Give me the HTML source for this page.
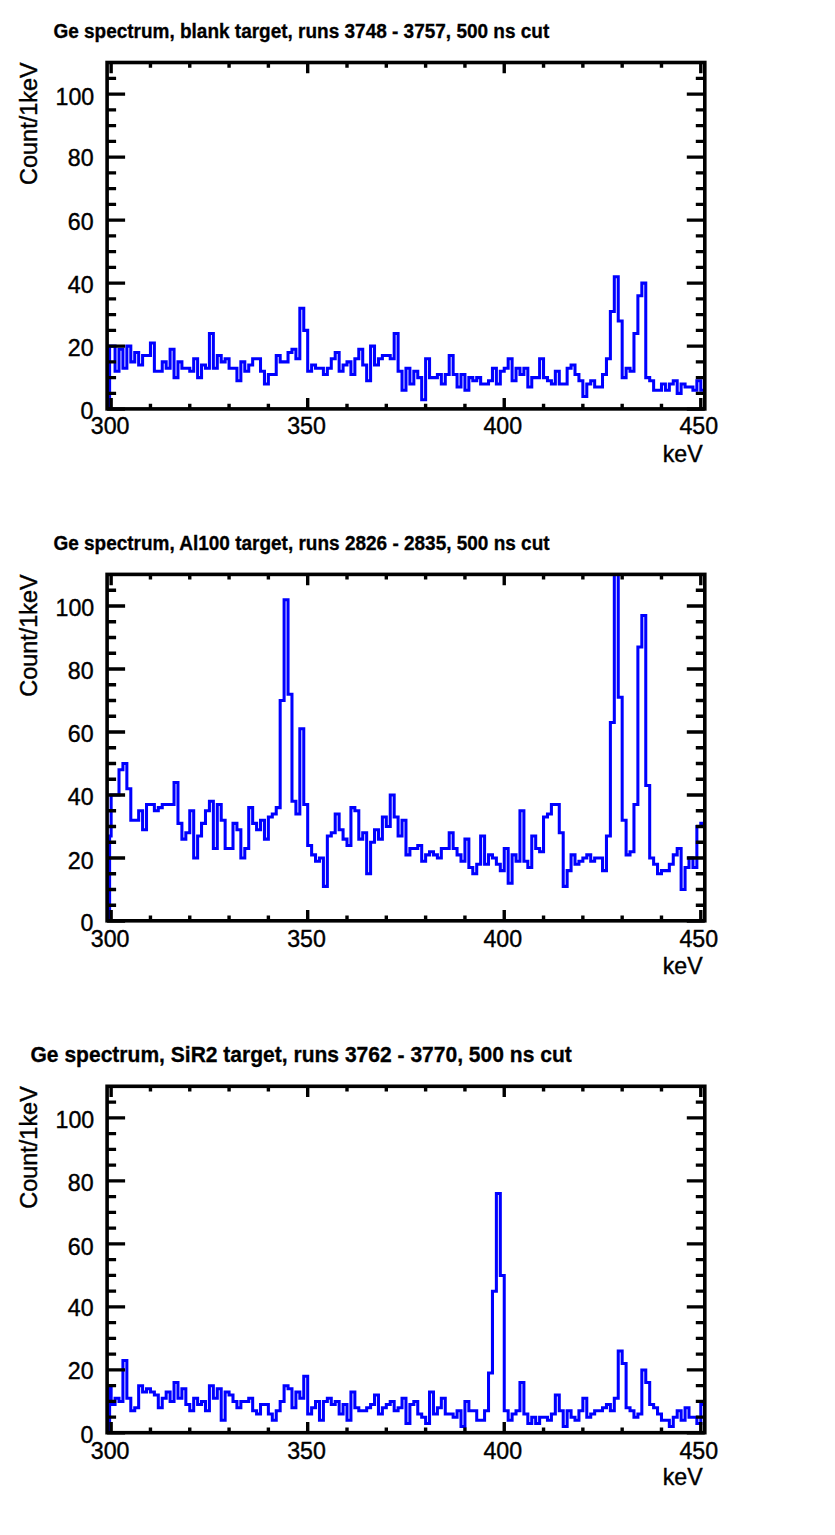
<!DOCTYPE html>
<html><head><meta charset="utf-8"><title>Ge spectra</title>
<style>html,body{margin:0;padding:0;background:#fff}svg{display:block;font-family:"Liberation Sans",sans-serif}</style>
</head><body>
<svg width="835" height="1535" viewBox="0 0 835 1535">
<rect width="835" height="1535" fill="#fff"/>
<g transform="translate(0,0)">
<clipPath id="c0"><rect x="107.1" y="62.5" width="597.7" height="346.4"/></clipPath>
<path d="M109.6,408.9V346.1H111.14V346.1H115.07V371.3H119V349.25H122.93V368.15H126.86V346.1H130.8V361.85H134.73V352.4H138.66V365H142.59V355.55H146.52V355.55H150.45V342.95H154.38V371.3H158.31V371.3H162.24V361.85H166.17V368.15H170.11V349.25H174.04V377.6H177.97V361.85H181.9V368.15H185.83V368.15H189.76V371.3H193.69V358.7H197.62V377.6H201.55V365H205.48V368.15H209.42V333.5H213.35V368.15H217.28V355.55H221.21V361.85H225.14V358.7H229.07V368.15H233V368.15H236.93V380.75H240.86V361.85H244.79V371.3H248.73V365H252.66V358.7H256.59V358.7H260.52V371.3H264.45V383.9H268.38V374.45H272.31V374.45H276.24V355.55H280.17V361.85H284.1V361.85H288.04V352.4H291.97V349.25H295.9V358.7H299.83V308.3H303.76V330.35H307.69V371.3H311.62V365H315.55V368.15H319.48V368.15H323.41V374.45H327.35V368.15H331.28V358.7H335.21V352.4H339.14V371.3H343.07V365H347V361.85H350.93V374.45H354.86V358.7H358.79V349.25H362.72V365H366.66V380.75H370.59V346.1H374.52V365H378.45V358.7H382.38V355.55H386.31V355.55H390.24V358.7H394.17V333.5H398.1V371.3H402.03V390.2H405.96V368.15H409.9V383.9H413.83V371.3H417.76V377.6H421.69V399.65H425.62V358.7H429.55V377.6H433.48V377.6H437.41V374.45H441.34V383.9H445.27V374.45H449.21V355.55H453.14V374.45H457.07V387.05H461V374.45H464.93V390.2H468.86V377.6H472.79V380.75H476.72V377.6H480.65V383.9H484.58V383.9H488.52V380.75H492.45V368.15H496.38V383.9H500.31V371.3H504.24V368.15H508.17V358.7H512.1V380.75H516.03V368.15H519.96V374.45H523.89V368.15H527.83V387.05H531.76V377.6H535.69V377.6H539.62V358.7H543.55V377.6H547.48V380.75H551.41V383.9H555.34V371.3H559.27V383.9H563.21V383.9H567.14V368.15H571.07V365H575V374.45H578.93V380.75H582.86V396.5H586.79V383.9H590.72V380.75H594.65V387.05H598.58V387.05H602.51V374.45H606.45V358.7H610.38V311.45H614.31V276.8H618.24V320.9H622.17V377.6H626.1V368.15H630.03V371.3H633.96V333.5H637.89V295.7H641.83V283.1H645.76V377.6H649.69V380.75H653.62V390.2H657.55V390.2H661.48V383.9H665.41V390.2H669.34V383.9H673.27V380.75H677.2V393.35H681.13V383.9H685.07V387.05H689V387.05H692.93V390.2H696.86V380.75H700.79V390.2H704.72V408.9" fill="none" stroke="#0000ff" stroke-width="3.05" stroke-linejoin="miter" clip-path="url(#c0)"/>
<path d="M111.14,408.9v-10.8M111.14,62.5v10.8M150.45,408.9v-5.2M150.45,62.5v5.2M189.76,408.9v-5.2M189.76,62.5v5.2M229.07,408.9v-5.2M229.07,62.5v5.2M268.38,408.9v-5.2M268.38,62.5v5.2M307.69,408.9v-10.8M307.69,62.5v10.8M347,408.9v-5.2M347,62.5v5.2M386.31,408.9v-5.2M386.31,62.5v5.2M425.62,408.9v-5.2M425.62,62.5v5.2M464.93,408.9v-5.2M464.93,62.5v5.2M504.24,408.9v-10.8M504.24,62.5v10.8M543.55,408.9v-5.2M543.55,62.5v5.2M582.86,408.9v-5.2M582.86,62.5v5.2M622.17,408.9v-5.2M622.17,62.5v5.2M661.48,408.9v-5.2M661.48,62.5v5.2M700.79,408.9v-10.8M700.79,62.5v10.8M107.1,409.1h18M704.8,409.1h-18M107.1,393.35h9M704.8,393.35h-9M107.1,377.6h9M704.8,377.6h-9M107.1,361.85h9M704.8,361.85h-9M107.1,346.1h18M704.8,346.1h-18M107.1,330.35h9M704.8,330.35h-9M107.1,314.6h9M704.8,314.6h-9M107.1,298.85h9M704.8,298.85h-9M107.1,283.1h18M704.8,283.1h-18M107.1,267.35h9M704.8,267.35h-9M107.1,251.6h9M704.8,251.6h-9M107.1,235.85h9M704.8,235.85h-9M107.1,220.1h18M704.8,220.1h-18M107.1,204.35h9M704.8,204.35h-9M107.1,188.6h9M704.8,188.6h-9M107.1,172.85h9M704.8,172.85h-9M107.1,157.1h18M704.8,157.1h-18M107.1,141.35h9M704.8,141.35h-9M107.1,125.6h9M704.8,125.6h-9M107.1,109.85h9M704.8,109.85h-9M107.1,94.1h18M704.8,94.1h-18M107.1,78.35h9M704.8,78.35h-9" fill="none" stroke="#000" stroke-width="3.4"/>
<rect x="107.1" y="62.5" width="597.7" height="346.4" fill="none" stroke="#000" stroke-width="3.6"/>
<text transform="translate(93.4,419.2) scale(1,1.0)" text-anchor="end" font-size="23.2" stroke="#000" stroke-width="0.4">0</text>
<text transform="translate(93.6,356.1) scale(1,1.0)" text-anchor="end" font-size="23.2" stroke="#000" stroke-width="0.4">20</text>
<text transform="translate(93.6,293) scale(1,1.0)" text-anchor="end" font-size="23.2" stroke="#000" stroke-width="0.4">40</text>
<text transform="translate(93.6,230) scale(1,1.0)" text-anchor="end" font-size="23.2" stroke="#000" stroke-width="0.4">60</text>
<text transform="translate(93.6,166.2) scale(1,1.0)" text-anchor="end" font-size="23.2" stroke="#000" stroke-width="0.4">80</text>
<text transform="translate(94.2,105.2) scale(1,1.0)" text-anchor="end" font-size="23.2" stroke="#000" stroke-width="0.4">100</text>
<text transform="translate(110.14,434.2) scale(1,1.0)" text-anchor="middle" font-size="23.2" stroke="#000" stroke-width="0.4">300</text>
<text transform="translate(306.49,434.2) scale(1,1.0)" text-anchor="middle" font-size="23.2" stroke="#000" stroke-width="0.4">350</text>
<text transform="translate(502.74,434.2) scale(1,1.0)" text-anchor="middle" font-size="23.2" stroke="#000" stroke-width="0.4">400</text>
<text transform="translate(698.79,434.2) scale(1,1.0)" text-anchor="middle" font-size="23.2" stroke="#000" stroke-width="0.4">450</text>
<text transform="translate(702.7,462) scale(1,1.0)" text-anchor="end" font-size="23.2" stroke="#000" stroke-width="0.4">keV</text>
<text transform="translate(36.9,184.9) rotate(-90) scale(1,1.0)" text-anchor="start" font-size="23.45" stroke="#000" stroke-width="0.4">Count/1keV</text>
<text transform="translate(53.4,37.5) scale(1,1.07)" text-anchor="start" font-size="19" font-weight="bold" stroke="#000" stroke-width="0.3">Ge spectrum, blank target, runs 3748 - 3757, 500 ns cut</text>
</g>
<g transform="translate(0,511.9)">
<clipPath id="c1"><rect x="107.1" y="62.5" width="597.7" height="346.4"/></clipPath>
<path d="M109.6,408.9V324.05H111.14V283.1H115.07V283.1H119V257.9H122.93V251.6H126.86V276.8H130.8V308.3H134.73V308.3H138.66V298.85H142.59V317.75H146.52V292.55H150.45V292.55H154.38V298.85H158.31V295.7H162.24V292.55H166.17V292.55H170.11V292.55H174.04V270.5H177.97V311.45H181.9V327.2H185.83V320.9H189.76V298.85H193.69V346.1H197.62V324.05H201.55V311.45H205.48V298.85H209.42V289.4H213.35V336.65H217.28V292.55H221.21V308.3H225.14V336.65H229.07V336.65H233V311.45H236.93V317.75H240.86V346.1H244.79V336.65H248.73V295.7H252.66V311.45H256.59V317.75H260.52V308.3H264.45V327.2H268.38V305.15H272.31V302H276.24V295.7H280.17V188.6H284.1V87.8H288.04V182.3H291.97V289.4H295.9V302H299.83V216.95H303.76V292.55H307.69V333.5H311.62V342.95H315.55V349.25H319.48V346.1H323.41V374.45H327.35V324.05H331.28V320.9H335.21V302H339.14V317.75H343.07V327.2H347V333.5H350.93V295.7H354.86V298.85H358.79V327.2H362.72V320.9H366.66V361.85H370.59V330.35H374.52V317.75H378.45V327.2H382.38V305.15H386.31V314.6H390.24V283.1H394.17V305.15H398.1V324.05H402.03V308.3H405.96V342.95H409.9V336.65H413.83V336.65H417.76V333.5H421.69V349.25H425.62V342.95H429.55V339.8H433.48V342.95H437.41V346.1H441.34V336.65H445.27V336.65H449.21V320.9H453.14V336.65H457.07V342.95H461V349.25H464.93V327.2H468.86V355.55H472.79V361.85H476.72V352.4H480.65V324.05H484.58V352.4H488.52V342.95H492.45V346.1H496.38V352.4H500.31V358.7H504.24V336.65H508.17V371.3H512.1V342.95H516.03V349.25H519.96V298.85H523.89V349.25H527.83V355.55H531.76V324.05H535.69V336.65H539.62V339.8H543.55V305.15H547.48V302H551.41V292.55H555.34V292.55H559.27V320.9H563.21V374.45H567.14V358.7H571.07V342.95H575V352.4H578.93V349.25H582.86V346.1H586.79V342.95H590.72V349.25H594.65V346.1H598.58V346.1H602.51V358.7H606.45V324.05H610.38V210.65H614.31V56.3H618.24V185.45H622.17V308.3H626.1V342.95H630.03V339.8H633.96V292.55H637.89V135.05H641.83V103.55H645.76V273.65H649.69V346.1H653.62V352.4H657.55V361.85H661.48V358.7H665.41V358.7H669.34V352.4H673.27V342.95H677.2V336.65H681.13V377.6H685.07V355.55H689V346.1H692.93V355.55H696.86V314.6H700.79V311.45H704.72V408.9" fill="none" stroke="#0000ff" stroke-width="3.05" stroke-linejoin="miter" clip-path="url(#c1)"/>
<path d="M111.14,408.9v-10.8M111.14,62.5v10.8M150.45,408.9v-5.2M150.45,62.5v5.2M189.76,408.9v-5.2M189.76,62.5v5.2M229.07,408.9v-5.2M229.07,62.5v5.2M268.38,408.9v-5.2M268.38,62.5v5.2M307.69,408.9v-10.8M307.69,62.5v10.8M347,408.9v-5.2M347,62.5v5.2M386.31,408.9v-5.2M386.31,62.5v5.2M425.62,408.9v-5.2M425.62,62.5v5.2M464.93,408.9v-5.2M464.93,62.5v5.2M504.24,408.9v-10.8M504.24,62.5v10.8M543.55,408.9v-5.2M543.55,62.5v5.2M582.86,408.9v-5.2M582.86,62.5v5.2M622.17,408.9v-5.2M622.17,62.5v5.2M661.48,408.9v-5.2M661.48,62.5v5.2M700.79,408.9v-10.8M700.79,62.5v10.8M107.1,409.1h18M704.8,409.1h-18M107.1,393.35h9M704.8,393.35h-9M107.1,377.6h9M704.8,377.6h-9M107.1,361.85h9M704.8,361.85h-9M107.1,346.1h18M704.8,346.1h-18M107.1,330.35h9M704.8,330.35h-9M107.1,314.6h9M704.8,314.6h-9M107.1,298.85h9M704.8,298.85h-9M107.1,283.1h18M704.8,283.1h-18M107.1,267.35h9M704.8,267.35h-9M107.1,251.6h9M704.8,251.6h-9M107.1,235.85h9M704.8,235.85h-9M107.1,220.1h18M704.8,220.1h-18M107.1,204.35h9M704.8,204.35h-9M107.1,188.6h9M704.8,188.6h-9M107.1,172.85h9M704.8,172.85h-9M107.1,157.1h18M704.8,157.1h-18M107.1,141.35h9M704.8,141.35h-9M107.1,125.6h9M704.8,125.6h-9M107.1,109.85h9M704.8,109.85h-9M107.1,94.1h18M704.8,94.1h-18M107.1,78.35h9M704.8,78.35h-9" fill="none" stroke="#000" stroke-width="3.4"/>
<rect x="107.1" y="62.5" width="597.7" height="346.4" fill="none" stroke="#000" stroke-width="3.6"/>
<text transform="translate(93.4,418.9) scale(1,1.0)" text-anchor="end" font-size="23.2" stroke="#000" stroke-width="0.4">0</text>
<text transform="translate(93.6,357.2) scale(1,1.0)" text-anchor="end" font-size="23.2" stroke="#000" stroke-width="0.4">20</text>
<text transform="translate(93.6,293) scale(1,1.0)" text-anchor="end" font-size="23.2" stroke="#000" stroke-width="0.4">40</text>
<text transform="translate(93.6,230.3) scale(1,1.0)" text-anchor="end" font-size="23.2" stroke="#000" stroke-width="0.4">60</text>
<text transform="translate(93.6,167.4) scale(1,1.0)" text-anchor="end" font-size="23.2" stroke="#000" stroke-width="0.4">80</text>
<text transform="translate(94.2,104.2) scale(1,1.0)" text-anchor="end" font-size="23.2" stroke="#000" stroke-width="0.4">100</text>
<text transform="translate(110.14,435.1) scale(1,1.0)" text-anchor="middle" font-size="23.2" stroke="#000" stroke-width="0.4">300</text>
<text transform="translate(306.49,435.1) scale(1,1.0)" text-anchor="middle" font-size="23.2" stroke="#000" stroke-width="0.4">350</text>
<text transform="translate(502.74,435.1) scale(1,1.0)" text-anchor="middle" font-size="23.2" stroke="#000" stroke-width="0.4">400</text>
<text transform="translate(698.79,435.1) scale(1,1.0)" text-anchor="middle" font-size="23.2" stroke="#000" stroke-width="0.4">450</text>
<text transform="translate(702.7,462) scale(1,1.0)" text-anchor="end" font-size="23.2" stroke="#000" stroke-width="0.4">keV</text>
<text transform="translate(36.9,184.9) rotate(-90) scale(1,1.0)" text-anchor="start" font-size="23.45" stroke="#000" stroke-width="0.4">Count/1keV</text>
<text transform="translate(53.4,38.3) scale(1,1.07)" text-anchor="start" font-size="19" font-weight="bold" stroke="#000" stroke-width="0.3">Ge spectrum, Al100 target, runs 2826 - 2835, 500 ns cut</text>
</g>
<g transform="translate(0,1023.8)">
<clipPath id="c2"><rect x="107.1" y="62.5" width="597.7" height="346.4"/></clipPath>
<path d="M109.6,408.9V361.85H111.14V380.75H115.07V374.45H119V377.6H122.93V336.65H126.86V374.45H130.8V387.05H134.73V383.9H138.66V361.85H142.59V368.15H146.52V365H150.45V368.15H154.38V371.3H158.31V383.9H162.24V374.45H166.17V368.15H170.11V377.6H174.04V358.7H177.97V374.45H181.9V365H185.83V380.75H189.76V387.05H193.69V374.45H197.62V380.75H201.55V377.6H205.48V387.05H209.42V361.85H213.35V374.45H217.28V365H221.21V396.5H225.14V368.15H229.07V371.3H233V377.6H236.93V383.9H240.86V377.6H244.79V377.6H248.73V374.45H252.66V387.05H256.59V390.2H260.52V380.75H264.45V380.75H268.38V390.2H272.31V396.5H276.24V387.05H280.17V377.6H284.1V361.85H288.04V365H291.97V383.9H295.9V368.15H299.83V374.45H303.76V352.4H307.69V390.2H311.62V383.9H315.55V377.6H319.48V396.5H323.41V377.6H327.35V374.45H331.28V380.75H335.21V377.6H339.14V390.2H343.07V380.75H347V396.5H350.93V368.15H354.86V383.9H358.79V387.05H362.72V387.05H366.66V383.9H370.59V380.75H374.52V371.3H378.45V390.2H382.38V383.9H386.31V380.75H390.24V377.6H394.17V387.05H398.1V383.9H402.03V374.45H405.96V399.65H409.9V380.75H413.83V377.6H417.76V390.2H421.69V393.35H425.62V399.65H429.55V368.15H433.48V390.2H437.41V383.9H441.34V374.45H445.27V390.2H449.21V390.2H453.14V393.35H457.07V387.05H461V402.8H464.93V377.6H468.86V387.05H472.79V387.05H476.72V396.5H480.65V396.5H484.58V387.05H488.52V349.25H492.45V267.35H496.38V169.7H500.31V251.6H504.24V387.05H508.17V396.5H512.1V390.2H516.03V387.05H519.96V358.7H523.89V390.2H527.83V399.65H531.76V393.35H535.69V399.65H539.62V393.35H543.55V393.35H547.48V396.5H551.41V390.2H555.34V371.3H559.27V387.05H563.21V402.8H567.14V387.05H571.07V393.35H575V396.5H578.93V387.05H582.86V374.45H586.79V393.35H590.72V390.2H594.65V387.05H598.58V387.05H602.51V383.9H606.45V380.75H610.38V387.05H614.31V374.45H618.24V327.2H622.17V339.8H626.1V383.9H630.03V387.05H633.96V393.35H637.89V390.2H641.83V346.1H645.76V358.7H649.69V380.75H653.62V383.9H657.55V390.2H661.48V396.5H665.41V396.5H669.34V402.8H673.27V393.35H677.2V387.05H681.13V396.5H685.07V383.9H689V393.35H692.93V393.35H696.86V399.65H700.79V380.75H704.72V408.9" fill="none" stroke="#0000ff" stroke-width="3.05" stroke-linejoin="miter" clip-path="url(#c2)"/>
<path d="M111.14,408.9v-10.8M111.14,62.5v10.8M150.45,408.9v-5.2M150.45,62.5v5.2M189.76,408.9v-5.2M189.76,62.5v5.2M229.07,408.9v-5.2M229.07,62.5v5.2M268.38,408.9v-5.2M268.38,62.5v5.2M307.69,408.9v-10.8M307.69,62.5v10.8M347,408.9v-5.2M347,62.5v5.2M386.31,408.9v-5.2M386.31,62.5v5.2M425.62,408.9v-5.2M425.62,62.5v5.2M464.93,408.9v-5.2M464.93,62.5v5.2M504.24,408.9v-10.8M504.24,62.5v10.8M543.55,408.9v-5.2M543.55,62.5v5.2M582.86,408.9v-5.2M582.86,62.5v5.2M622.17,408.9v-5.2M622.17,62.5v5.2M661.48,408.9v-5.2M661.48,62.5v5.2M700.79,408.9v-10.8M700.79,62.5v10.8M107.1,409.1h18M704.8,409.1h-18M107.1,393.35h9M704.8,393.35h-9M107.1,377.6h9M704.8,377.6h-9M107.1,361.85h9M704.8,361.85h-9M107.1,346.1h18M704.8,346.1h-18M107.1,330.35h9M704.8,330.35h-9M107.1,314.6h9M704.8,314.6h-9M107.1,298.85h9M704.8,298.85h-9M107.1,283.1h18M704.8,283.1h-18M107.1,267.35h9M704.8,267.35h-9M107.1,251.6h9M704.8,251.6h-9M107.1,235.85h9M704.8,235.85h-9M107.1,220.1h18M704.8,220.1h-18M107.1,204.35h9M704.8,204.35h-9M107.1,188.6h9M704.8,188.6h-9M107.1,172.85h9M704.8,172.85h-9M107.1,157.1h18M704.8,157.1h-18M107.1,141.35h9M704.8,141.35h-9M107.1,125.6h9M704.8,125.6h-9M107.1,109.85h9M704.8,109.85h-9M107.1,94.1h18M704.8,94.1h-18M107.1,78.35h9M704.8,78.35h-9" fill="none" stroke="#000" stroke-width="3.4"/>
<rect x="107.1" y="62.5" width="597.7" height="346.4" fill="none" stroke="#000" stroke-width="3.6"/>
<text transform="translate(93.4,418.7) scale(1,1.0)" text-anchor="end" font-size="23.2" stroke="#000" stroke-width="0.4">0</text>
<text transform="translate(93.6,355.2) scale(1,1.0)" text-anchor="end" font-size="23.2" stroke="#000" stroke-width="0.4">20</text>
<text transform="translate(93.6,292) scale(1,1.0)" text-anchor="end" font-size="23.2" stroke="#000" stroke-width="0.4">40</text>
<text transform="translate(93.6,231.2) scale(1,1.0)" text-anchor="end" font-size="23.2" stroke="#000" stroke-width="0.4">60</text>
<text transform="translate(93.6,167.3) scale(1,1.0)" text-anchor="end" font-size="23.2" stroke="#000" stroke-width="0.4">80</text>
<text transform="translate(94.2,104.5) scale(1,1.0)" text-anchor="end" font-size="23.2" stroke="#000" stroke-width="0.4">100</text>
<text transform="translate(110.14,435.25) scale(1,1.0)" text-anchor="middle" font-size="23.2" stroke="#000" stroke-width="0.4">300</text>
<text transform="translate(306.49,435.25) scale(1,1.0)" text-anchor="middle" font-size="23.2" stroke="#000" stroke-width="0.4">350</text>
<text transform="translate(502.74,435.25) scale(1,1.0)" text-anchor="middle" font-size="23.2" stroke="#000" stroke-width="0.4">400</text>
<text transform="translate(698.79,435.25) scale(1,1.0)" text-anchor="middle" font-size="23.2" stroke="#000" stroke-width="0.4">450</text>
<text transform="translate(702.7,461.3) scale(1,1.0)" text-anchor="end" font-size="23.2" stroke="#000" stroke-width="0.4">keV</text>
<text transform="translate(36.9,184.9) rotate(-90) scale(1,1.0)" text-anchor="start" font-size="23.45" stroke="#000" stroke-width="0.4">Count/1keV</text>
<text transform="translate(30.5,38.2) scale(1,1.07)" text-anchor="start" font-size="21.05" font-weight="bold" stroke="#000" stroke-width="0.3">Ge spectrum, SiR2 target, runs 3762 - 3770, 500 ns cut</text>
</g>
</svg>
</body></html>
